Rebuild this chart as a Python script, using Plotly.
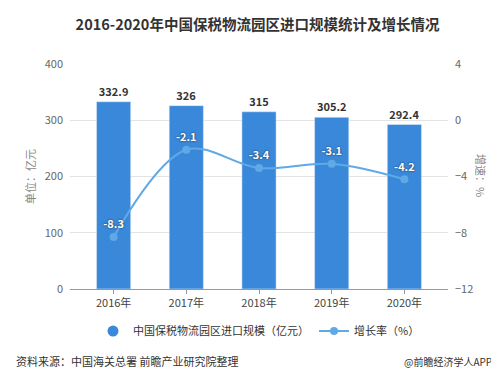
import plotly.graph_objects as go

years = ["2016年", "2017年", "2018年", "2019年", "2020年"]
scale = [332.9, 326, 315, 305.2, 292.4]
growth = [-8.3, -2.1, -3.4, -3.1, -4.2]
scale_labels = ["332.9", "326", "315", "305.2", "292.4"]
growth_labels = ["-8.3", "-2.1", "-3.4", "-3.1", "-4.2"]

FONT = "Noto Sans CJK SC, Microsoft YaHei, sans-serif"
BAR = "#3a88d9"
LINE = "#5fa9e6"

fig = go.Figure()
fig.add_trace(go.Bar(
    x=years, y=scale, name="中国保税物流园区进口规模（亿元）", showlegend=False,
    marker=dict(color=BAR), width=0.47,
    text=scale_labels, textposition="outside", cliponaxis=False,
    textfont=dict(size=11, color="#333333", family=FONT, weight="bold"),
))
# legend proxy with a round marker, as in the reference
fig.add_trace(go.Scatter(
    x=[None], y=[None], mode="markers", name="中国保税物流园区进口规模（亿元）",
    marker=dict(color=BAR, size=11, symbol="circle"),
))
fig.add_trace(go.Scatter(
    x=years, y=growth, name="增长率（%）", yaxis="y2",
    mode="lines+markers+text",
    line=dict(color=LINE, width=2, shape="spline"),
    marker=dict(color=LINE, size=8),
    text=growth_labels, textposition="top center", cliponaxis=False,
    textfont=dict(size=11, color="#ffffff", family=FONT, weight="bold",
                  shadow="0px 0px 2px #222"),
))

fig.update_layout(
    width=499, height=372,
    margin=dict(l=62, r=59, t=56, b=91),
    paper_bgcolor="white", plot_bgcolor="white",
    font=dict(family=FONT, size=11, color="#666666"),
    title=dict(text="<b>2016-2020年中国保税物流园区进口规模统计及增长情况</b>",
               x=0.5, xanchor="center", y=1 - 17 / 372, yanchor="middle",
               font=dict(size=14.5, color="#333333", family=FONT)),
    bargap=0.53,
    xaxis=dict(type="category", range=[-0.6, 4.6], showgrid=False,
               showline=True, linecolor="#999999", linewidth=1,
               ticks="outside", ticklen=4, tickcolor="#999999",
               tickfont=dict(size=11, color="#444444")),
    yaxis=dict(range=[0, 400], dtick=100, showgrid=True, gridcolor="#e3e3e3",
               zeroline=False, showline=False,
               tickfont=dict(size=11, color="#666666"),
               ticks="", ticklabelstandoff=6),
    yaxis2=dict(range=[-12, 4], dtick=4, overlaying="y", side="right",
                showgrid=False, zeroline=False, showline=False,
                tickfont=dict(size=11, color="#666666"), ticklabelstandoff=6),
    legend=dict(orientation="h", x=0.5, xanchor="center", y=-0.187, yanchor="middle",
                font=dict(size=11, color="#333333"), itemwidth=30,
                traceorder="normal"),
    showlegend=True,
)

fig.add_annotation(text="单位：亿元", xref="paper", yref="paper",
                   x=-0.107, y=0.5, xanchor="center", yanchor="middle",
                   textangle=-90, showarrow=False,
                   font=dict(size=11, color="#888888"))
fig.add_annotation(text="增速：%", xref="paper", yref="paper",
                   x=(473 - 62) / 378, y=(281 - 168) / 225, xanchor="center", yanchor="middle",
                   textangle=90, showarrow=False,
                   font=dict(size=11, color="#888888"))
fig.add_annotation(text="资料来源：中国海关总署 前瞻产业研究院整理", xref="paper", yref="paper",
                   x=-(62 - 6) / 378, y=-(353 - 281) / 225, xanchor="left", yanchor="middle",
                   showarrow=False, font=dict(size=11, color="#333333"))
fig.add_annotation(text="@前瞻经济学人APP", xref="paper", yref="paper",
                   x=(394 - 62) / 378, y=-(353 - 281) / 225, xanchor="left", yanchor="middle",
                   showarrow=False, font=dict(size=10, color="#333333"))

fig.write_html("out.html")
